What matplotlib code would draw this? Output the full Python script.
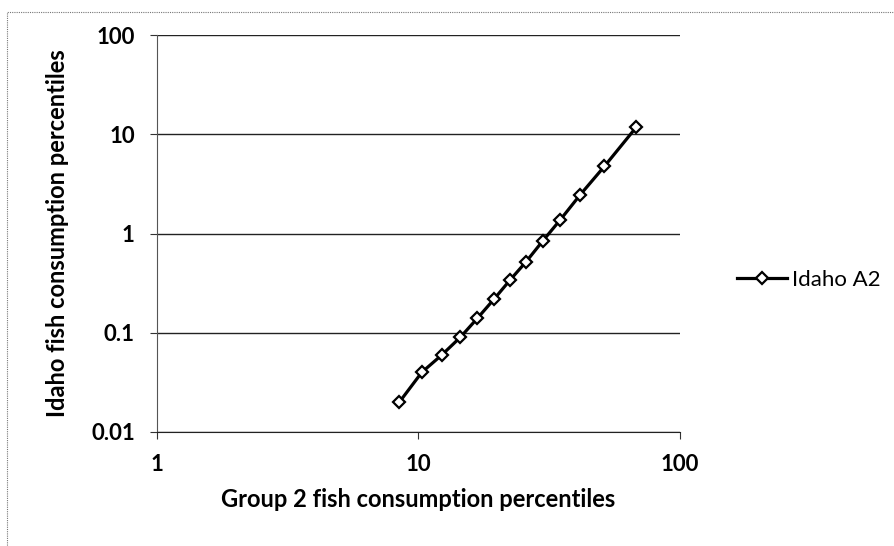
import numpy as np
import matplotlib
matplotlib.use("Agg")
import matplotlib.pyplot as plt
from matplotlib.patches import Rectangle

# values
group2_pct = [8.45, 10.3, 12.3, 14.45, 16.8, 19.5, 22.4, 25.8, 29.85, 34.9, 41.5, 51.4, 67.9]
idaho_pct = [0.02, 0.04, 0.06, 0.09, 0.14, 0.22, 0.34, 0.52, 0.84, 1.38, 2.45, 4.75, 11.7]
series_name = "Idaho A2"
x_ticks = [1, 10, 100]
x_tick_labels = ["1", "10", "100"]
y_ticks = [0.01, 0.1, 1, 10, 100]
y_tick_labels = ["0.01", "0.1", "1", "10", "100"]

plt.rcParams["font.family"] = ["Lato", "DejaVu Sans"]

fig = plt.figure(figsize=(8.95, 5.46), dpi=100)
ax = fig.add_axes([157 / 895, 1 - 432 / 546, 523 / 895, 397 / 546])

ax.plot(group2_pct, idaho_pct, color="black", lw=2.3, marker="D", markersize=6.5,
        markerfacecolor="white", markeredgecolor="black", markeredgewidth=1.6,
        label=series_name, zorder=3)

ax.set_xscale("log")
ax.set_yscale("log")
ax.set_xlim(1, 100)
ax.set_ylim(0.01, 100)
ax.set_xticks(x_ticks)
ax.set_xticklabels(x_tick_labels)
ax.set_yticks(y_ticks)
ax.set_yticklabels(y_tick_labels)
ax.minorticks_off()
ax.tick_params(axis="both", labelsize=16, length=5, width=0.8, color="#333333")
ax.tick_params(axis="y", pad=11)
ax.tick_params(axis="x", pad=11)
for lab in ax.get_xticklabels() + ax.get_yticklabels():
    lab.set_fontweight("bold")

ax.grid(axis="y", color="#222222", lw=1.0)
ax.set_axisbelow(True)
for side in ["top", "right"]:
    ax.spines[side].set_visible(False)
ax.spines["left"].set_color("#555555")
ax.spines["left"].set_linewidth(0.8)
ax.spines["bottom"].set_color("#222222")

ax.set_xlabel("Group 2 fish consumption percentiles", fontsize=17, fontweight="bold", labelpad=9)
ax.set_ylabel("Idaho fish consumption percentiles", fontsize=17, fontweight="bold", labelpad=16)

ax.legend(loc="center left", bbox_to_anchor=(1.109, 0.383), frameon=False, fontsize=16,
          handlelength=2.25, handletextpad=0.22, borderpad=0, borderaxespad=0)

# dotted chart-area frame
fig.patches.append(Rectangle((7 / 895, -0.05), 1.1, 1 - 12 / 546 + 0.05, transform=fig.transFigure,
                             fill=False, ls=(0, (1, 1)), lw=0.8, ec="#777777"))

fig.savefig("out.png", dpi=100)
